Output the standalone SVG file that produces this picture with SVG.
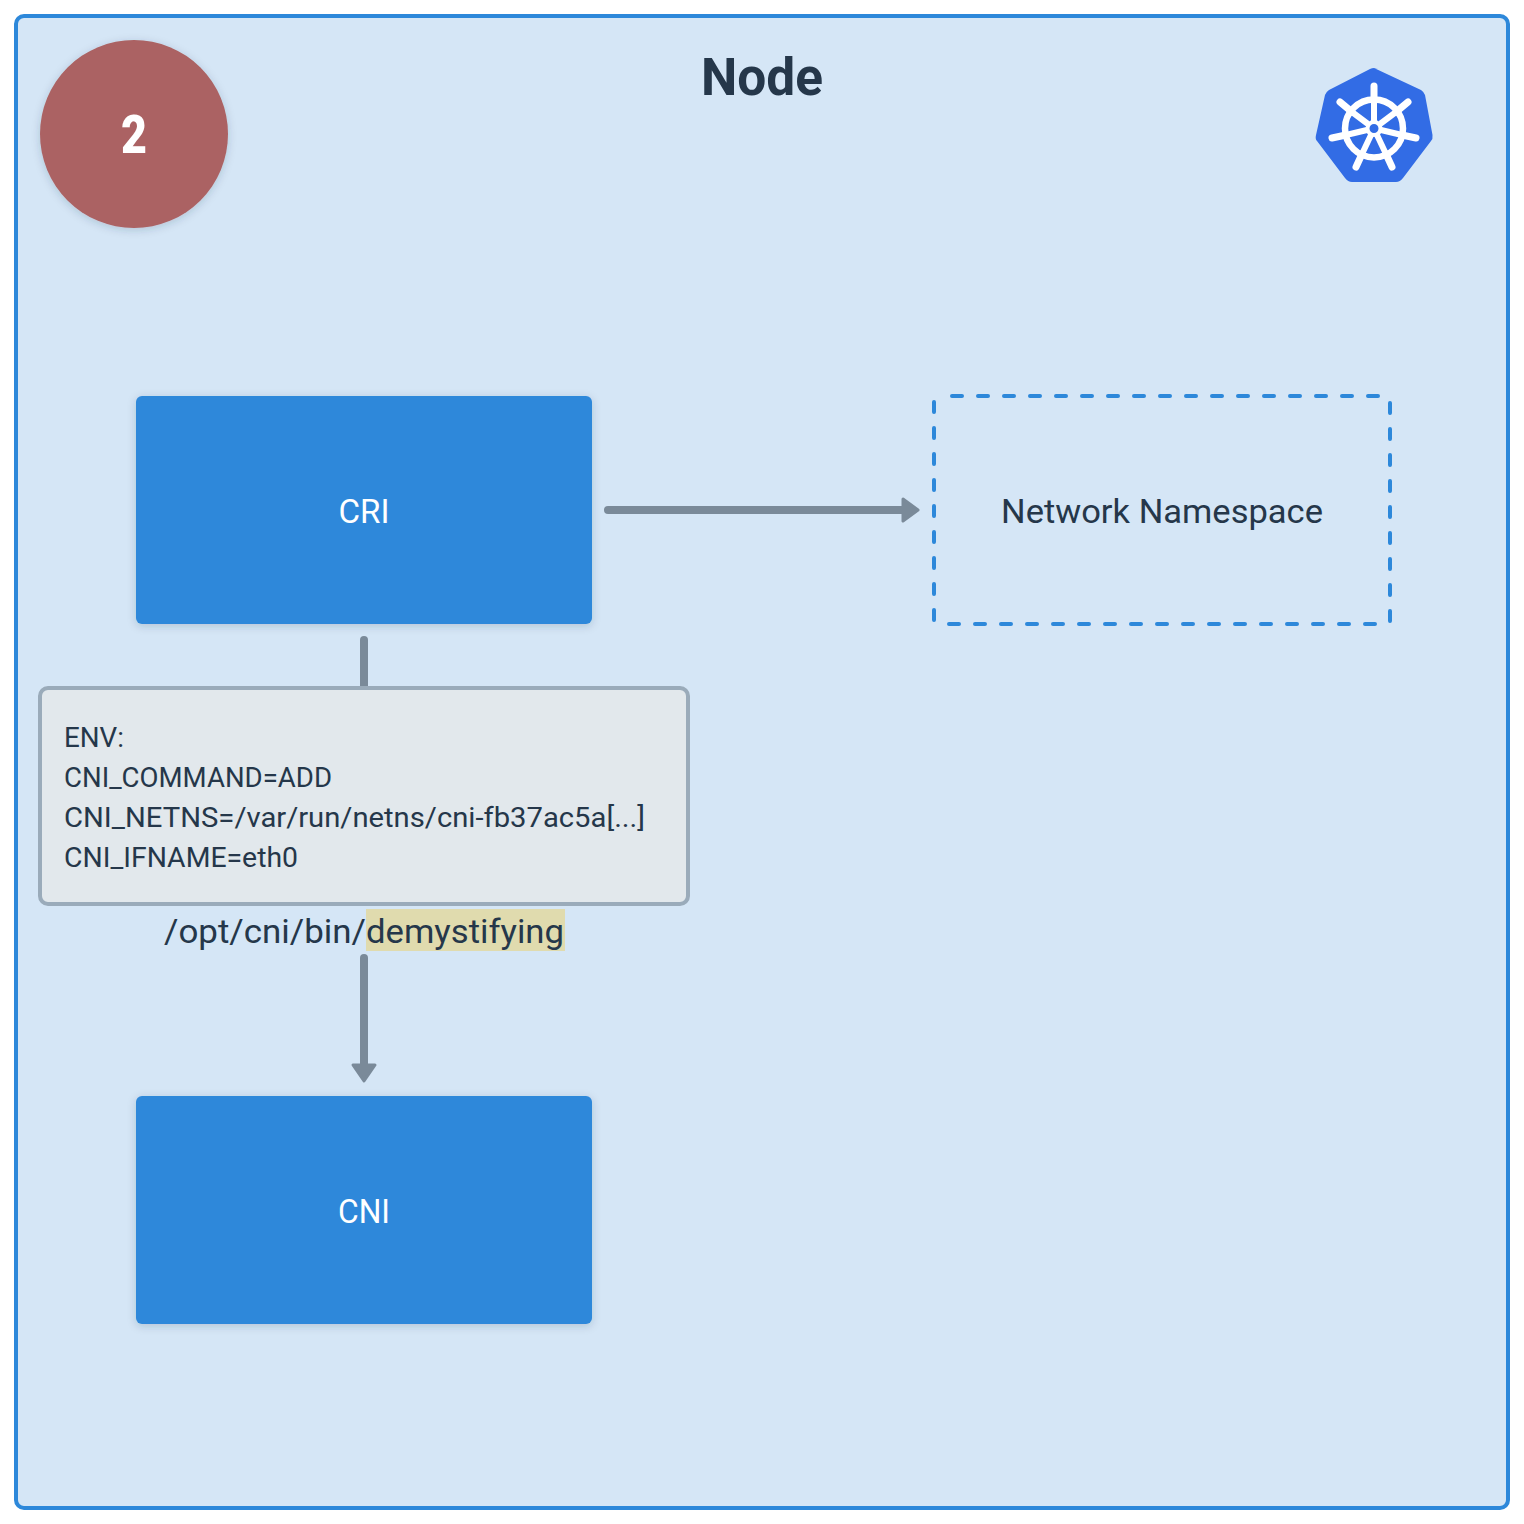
<svg xmlns="http://www.w3.org/2000/svg" width="1524" height="1524" viewBox="0 0 1524 1524">
<defs>
<style>
text{font-family:"Roboto","Liberation Sans",sans-serif;fill:#25374a}
.box{fill:#2d88da;filter:url(#sh)}
.lbl{font-size:33px;fill:#fff;text-anchor:middle}
.env{font-size:27px}
.conn{fill:none;stroke:#7a8a99;stroke-width:8;stroke-linecap:round}
.head{fill:#7a8a99;stroke:#7a8a99;stroke-width:3;stroke-linejoin:round}
.spk{stroke:#fff;stroke-width:7;stroke-linecap:round;fill:none}
.spi{stroke:#fff;stroke-width:6;fill:none}
</style>
<filter id="sh" x="-20%" y="-20%" width="140%" height="140%"><feDropShadow dx="0" dy="2" stdDeviation="4" flood-color="#1a3050" flood-opacity="0.2"/></filter>
</defs>
<rect width="1524" height="1524" fill="#fff"/>
<g id="node-frame">
<rect x="16" y="16" width="1492" height="1492" rx="8" fill="#d5e6f6" stroke="#2d88da" stroke-width="4"/>
<text x="762" y="95" font-size="51" font-weight="700" text-anchor="middle" textLength="122" lengthAdjust="spacingAndGlyphs">Node</text>
</g>
<g id="step-badge">
<circle cx="134" cy="134" r="94" fill="#ab6263" filter="url(#sh)"/>
<text x="134" y="153" font-size="54" font-weight="900" text-anchor="middle" textLength="26" lengthAdjust="spacingAndGlyphs" style="fill:#fff">2</text>
</g>
<g id="k8s-logo">
<path d="M1374 68L1421 90Q1424 92 1425 95L1432.500 135Q1433 139 1431 141L1403 178Q1400 182 1396 182L1352 182Q1348 182 1345 178L1317 141Q1315 139 1316 135L1325 95Q1326 92 1329 90L1370 69Q1374 67 1378 69Z" fill="#326ce5"/>
<circle cx="1374" cy="128.500" r="29" fill="none" stroke="#fff" stroke-width="6.500"/>
<circle cx="1374" cy="128.500" r="6.500" fill="none" stroke="#fff" stroke-width="4"/>
<g class="spk">
<path d="M1374 86V100M1408 102L1396 112M1416 138L1402 135M1392 167L1386 154M1356 167L1362 154M1332 138L1346 135M1340 102L1352 112"/>
</g>
<g class="spi">
<path d="M1374 100V121M1396 112L1380 124M1402 135L1381 130M1386 154L1377 135M1362 154L1371 135M1346 135L1367 130M1352 112L1368 124"/>
</g>
</g>
<g id="connectors">
<path class="conn" d="M608 510H906"/>
<path class="head" d="M903 499L918 510L903 521Z"/>
<path class="conn" d="M364 640V690"/>
<path class="conn" d="M364 958V1068"/>
<path class="head" d="M353 1065L375 1065L364 1081Z"/>
</g>
<g id="cri">
<rect class="box" x="136" y="396" width="456" height="228" rx="6"/>
<text class="lbl" x="364" y="523" textLength="51" lengthAdjust="spacingAndGlyphs">CRI</text>
</g>
<g id="netns">
<path d="M952 396H1378M1390 403V624M1375 624H934M934 620V396" fill="none" stroke="#2d88da" stroke-width="4" stroke-dasharray="10 16" stroke-linecap="round"/>
<text x="1162" y="523" font-size="33" text-anchor="middle" textLength="322" lengthAdjust="spacingAndGlyphs">Network Namespace</text>
</g>
<g id="env">
<rect x="40" y="688" width="648" height="216" rx="8" fill="#e2e8ec" stroke="#9aabba" stroke-width="4"/>
<text class="env" x="64" y="747" textLength="60" lengthAdjust="spacingAndGlyphs">ENV:</text>
<text class="env" x="64" y="787" textLength="268" lengthAdjust="spacingAndGlyphs">CNI_COMMAND=ADD</text>
<text class="env" x="64" y="827" textLength="581" lengthAdjust="spacingAndGlyphs">CNI_NETNS=/var/run/netns/cni-fb37ac5a[...]</text>
<text class="env" x="64" y="867" textLength="234" lengthAdjust="spacingAndGlyphs">CNI_IFNAME=eth0</text>
</g>
<g id="path-label">
<rect x="366" y="909" width="199" height="42" fill="#e0dbae"/>
<text x="164" y="943" font-size="33" textLength="202" lengthAdjust="spacingAndGlyphs">/opt/cni/bin/</text>
<text x="366" y="943" font-size="33" textLength="198" lengthAdjust="spacingAndGlyphs">demystifying</text>
</g>
<g id="cni">
<rect class="box" x="136" y="1096" width="456" height="228" rx="6"/>
<text class="lbl" x="364" y="1223" textLength="52" lengthAdjust="spacingAndGlyphs">CNI</text>
</g>
</svg>
